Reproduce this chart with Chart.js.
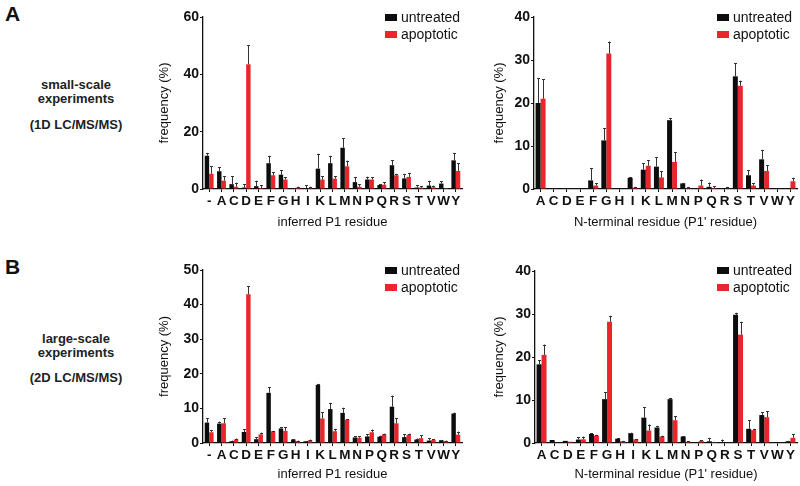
<!DOCTYPE html>
<html>
<head>
<meta charset="utf-8">
<script src="https://cdn.jsdelivr.net/npm/chart.js@4/dist/chart.umd.min.js"></script>
<style>
  body { margin: 0; background: #fff; }
  #wrap { position: relative; width: 800px; height: 486px; overflow: hidden;
    font-family: "Liberation Sans", Arial, Helvetica, sans-serif; color: #111; }
  .box { position: absolute; }
  .panel-label { position: absolute; font-weight: bold; font-size: 21px; }
  .side-text { position: absolute; left: 0; width: 152px; text-align: center;
    font-weight: bold; font-size: 13px; line-height: 14px; color: #222; }
  .legend { position: absolute; font-size: 14px; line-height: 17px; }
  .legend div { height: 17px; white-space: nowrap; }
  .legend span.sw { display: inline-block; width: 12px; height: 7px; margin-right: 4px; vertical-align: 1px; }
</style>
</head>
<body>
<div id="wrap">
  <div class="panel-label" style="left:5px;top:2px">A</div>
  <div class="panel-label" style="left:5px;top:255px">B</div>

  <div class="side-text" style="top:78px">small-scale<br>experiments</div>
  <div class="side-text" style="top:118px">(1D LC/MS/MS)</div>
  <div class="side-text" style="top:332px">large-scale<br>experiments</div>
  <div class="side-text" style="top:371px">(2D LC/MS/MS)</div>

  <div class="box" style="left:150px;top:0px;width:320px;height:240px"><canvas id="chart_a_left"></canvas></div>
  <div class="box" style="left:470px;top:0px;width:330px;height:240px"><canvas id="chart_a_right"></canvas></div>
  <div class="box" style="left:150px;top:250px;width:320px;height:236px"><canvas id="chart_b_left"></canvas></div>
  <div class="box" style="left:470px;top:250px;width:330px;height:236px"><canvas id="chart_b_right"></canvas></div>

  <div class="legend" style="left:385px;top:9px"><div><span class="sw" style="background:#0d0d0d"></span>untreated</div><div><span class="sw" style="background:#e8262b"></span>apoptotic</div></div>
  <div class="legend" style="left:717px;top:9px"><div><span class="sw" style="background:#0d0d0d"></span>untreated</div><div><span class="sw" style="background:#e8262b"></span>apoptotic</div></div>
  <div class="legend" style="left:385px;top:262px"><div><span class="sw" style="background:#0d0d0d"></span>untreated</div><div><span class="sw" style="background:#e8262b"></span>apoptotic</div></div>
  <div class="legend" style="left:717px;top:262px"><div><span class="sw" style="background:#0d0d0d"></span>untreated</div><div><span class="sw" style="background:#e8262b"></span>apoptotic</div></div>
</div>

<script>
// categories
const p1_residues = ['-', 'A', 'C', 'D', 'E', 'F', 'G', 'H', 'I', 'K', 'L', 'M', 'N', 'P', 'Q', 'R', 'S', 'T', 'V', 'W', 'Y']
const p1p_residues = ['A', 'C', 'D', 'E', 'F', 'G', 'H', 'I', 'K', 'L', 'M', 'N', 'P', 'Q', 'R', 'S', 'T', 'V', 'W', 'Y']

// A: small-scale, inferred P1
const small_p1_untreated = [11.6, 6.2, 1.7, 0.5, 1.0, 9.0, 5.0, 0, 0.35, 7.1, 9.0, 14.4, 2.4, 3.3, 1.4, 8.3, 3.7, 0.5, 1.2, 1.9, 10.0]
const small_p1_untreated_err = [1.0, 1.4, 2.7, 1.2, 1.9, 2.6, 1.5, 0, 0.9, 5.2, 2.6, 3.4, 1.8, 1.0, 0.3, 1.7, 1.6, 0.8, 1.7, 0.8, 2.6]
const small_p1_apoptotic = [5.3, 2.9, 0.8, 43.5, 0.35, 4.8, 3.3, 0.5, 0.3, 3.3, 3.6, 7.9, 0.8, 3.3, 1.5, 4.8, 4.2, 0.5, 0.6, 0.2, 6.3]
const small_p1_apoptotic_err = [2.6, 1.5, 1.4, 6.6, 1.0, 1.1, 0.8, 0.3, 0.5, 1.1, 0.9, 2.0, 0.9, 0.9, 0.9, 0.5, 1.4, 0.4, 0.6, 0.1, 2.7]

// A: small-scale, N-terminal P1'
const small_p1p_untreated = [20.0, 0, 0, 0, 2.0, 11.3, 0, 2.6, 4.5, 5.2, 16.0, 1.3, 0, 0.5, 0, 26.2, 3.2, 6.9, 0, 0]
const small_p1p_untreated_err = [5.7, 0, 0, 0, 2.9, 2.8, 0, 0.2, 1.5, 2.2, 0.4, 0.1, 0, 1.0, 0, 3.0, 1.2, 2.2, 0, 0]
const small_p1p_apoptotic = [21.0, 0, 0, 0, 0.8, 31.5, 0, 0.3, 5.4, 2.7, 6.3, 0.2, 0.8, 0.2, 0.1, 24.0, 0.8, 4.2, 0, 1.8]
const small_p1p_apoptotic_err = [4.5, 0, 0, 0, 0.6, 2.8, 0, 0.2, 1.3, 1.4, 2.3, 0.3, 1.4, 0.5, 0.4, 1.2, 0.6, 1.3, 0, 0.8]

// B: large-scale, inferred P1
const large_p1_untreated = [5.9, 5.6, 0.5, 3.2, 1.1, 14.5, 4.2, 1.0, 0.5, 16.8, 9.8, 8.7, 1.6, 1.9, 1.8, 10.5, 1.7, 1.0, 0.7, 0.8, 8.5]
const large_p1_untreated_err = [1.2, 0.6, 0.2, 0.8, 0.5, 1.7, 0.3, 0.1, 0.1, 0.3, 1.8, 1.5, 0.4, 0.6, 0.3, 3.2, 0.9, 0.3, 0.7, 0.1, 0.3]
const large_p1_apoptotic = [3.1, 5.7, 1.0, 43.0, 2.5, 3.4, 3.5, 0.6, 0.8, 7.1, 3.4, 6.7, 1.5, 3.1, 2.5, 5.7, 2.4, 1.4, 0.9, 0.6, 2.4]
const large_p1_apoptotic_err = [0.7, 1.4, 0.3, 2.4, 0.5, 0.1, 1.0, 0.1, 0.2, 1.8, 0.7, 0.2, 0.4, 0.8, 0.2, 1.5, 0.3, 0.8, 0.2, 0.1, 0.9]

// B: large-scale, N-terminal P1'
const large_p1p_untreated = [18.3, 0.7, 0.5, 0.8, 2.1, 10.2, 1.0, 2.3, 5.9, 3.6, 10.2, 1.5, 0, 0.4, 0.2, 29.8, 3.3, 6.5, 0, 0.4]
const large_p1p_untreated_err = [1.0, 0, 0, 0.6, 0.2, 1.6, 0.1, 0.1, 2.4, 0.4, 0.3, 0.1, 0, 0.8, 0.6, 0.5, 2.0, 0.6, 0, 0.1]
const large_p1p_apoptotic = [20.5, 0, 0.3, 0.85, 1.7, 28.2, 0.4, 0.85, 2.9, 1.5, 5.3, 0.3, 0.5, 0.2, 0, 25.2, 3.0, 6.0, 0, 1.2]
const large_p1p_apoptotic_err = [2.4, 0, 0, 0.65, 0.2, 1.4, 0.1, 0.1, 1.4, 0.2, 1.0, 0.1, 0.2, 0.1, 0, 3.0, 0.3, 1.4, 0, 0.8]

const BLACK = '#0d0d0d'
const RED = '#e8262b'
const FONT = '"Liberation Sans", Arial, Helvetica, sans-serif'

Chart.defaults.font.family = FONT
Chart.defaults.color = '#111'

// draws the upper error whiskers, using the chart's own y scale
const error_bar_plugin = {
  id: 'error_bars',
  afterDatasetsDraw(chart) {
    const ctx = chart.ctx
    const y_scale = chart.scales.y
    chart.data.datasets.forEach((ds, i) => {
      const meta = chart.getDatasetMeta(i)
      meta.data.forEach((bar, j) => {
        const err = ds.errors[j]
        if (!err) return
        const x = Math.round(bar.x) + 0.5
        const y_top = y_scale.getPixelForValue(ds.data[j] + err)
        ctx.save()
        ctx.strokeStyle = '#333'
        ctx.lineWidth = 1
        ctx.beginPath()
        ctx.moveTo(x, bar.y)
        ctx.lineTo(x, y_top)
        ctx.moveTo(x - 1.5, Math.round(y_top) + 0.5)
        ctx.lineTo(x + 1.5, Math.round(y_top) + 0.5)
        ctx.stroke()
        ctx.restore()
      })
    })
  }
}

function create_chart(elem_id, labels, untreated, untreated_err, apoptotic, apoptotic_err, cfg) {
  const ctx = document.getElementById(elem_id)
  return new Chart(ctx, {
    type: 'bar',
    data: {
      labels: labels,
      datasets: [
        { label: 'untreated', data: untreated, errors: untreated_err, backgroundColor: BLACK },
        { label: 'apoptotic', data: apoptotic, errors: apoptotic_err, backgroundColor: RED }
      ]
    },
    options: {
      responsive: true,
      maintainAspectRatio: false,
      animation: false,
      datasets: { bar: { barPercentage: 1.0, categoryPercentage: cfg.cat_pct } },
      layout: { padding: { top: cfg.pad_top, right: cfg.pad_right, left: 0, bottom: 0 } },
      plugins: { legend: { display: false }, tooltip: { enabled: false } },
      scales: {
        x: {
          grid: { display: true, drawOnChartArea: false, drawTicks: true, tickLength: 3, offset: false, color: '#111' },
          border: { display: true, color: '#111', width: 1.3 },
          ticks: { autoSkip: false, maxRotation: 0, padding: 1, font: { size: 13.5, weight: 'bold' }, color: '#111' },
          title: { display: true, text: cfg.x_title, font: { size: 13 }, color: '#111', padding: { top: 0, bottom: cfg.x_title_pad } },
          afterFit: (scale) => { scale.height = cfg.x_height }
        },
        y: {
          min: 0,
          max: cfg.y_max,
          ticks: { stepSize: cfg.y_step, padding: 1, font: { size: 14, weight: 'bold' }, color: '#111' },
          grid: { display: true, drawOnChartArea: false, drawTicks: true, tickLength: 3, color: '#111' },
          border: { display: true, color: '#111', width: 1.3 },
          title: { display: true, text: 'frequency (%)', font: { size: 13 }, color: '#111', padding: { top: cfg.y_title_pad, bottom: 0 } },
          afterFit: (scale) => { scale.width = cfg.y_width }
        }
      }
    },
    plugins: [error_bar_plugin]
  })
}

create_chart('chart_a_left', p1_residues, small_p1_untreated, small_p1_untreated_err, small_p1_apoptotic, small_p1_apoptotic_err, {
  cat_pct: 0.72, pad_top: 17, pad_right: 8, x_title: 'inferred P1 residue', x_title_pad: 10, x_height: 51,
  y_max: 60, y_step: 20, y_title_pad: 7, y_width: 53
})
create_chart('chart_a_right', p1p_residues, small_p1p_untreated, small_p1p_untreated_err, small_p1p_apoptotic, small_p1p_apoptotic_err, {
  cat_pct: 0.76, pad_top: 17, pad_right: 3, x_title: "N-terminal residue (P1' residue)", x_title_pad: 10, x_height: 51,
  y_max: 40, y_step: 10, y_title_pad: 22, y_width: 64
})
create_chart('chart_b_left', p1_residues, large_p1_untreated, large_p1_untreated_err, large_p1_apoptotic, large_p1_apoptotic_err, {
  cat_pct: 0.72, pad_top: 20, pad_right: 8, x_title: 'inferred P1 residue', x_title_pad: 4, x_height: 43,
  y_max: 50, y_step: 10, y_title_pad: 7, y_width: 53
})
create_chart('chart_b_right', p1p_residues, large_p1p_untreated, large_p1p_untreated_err, large_p1p_apoptotic, large_p1p_apoptotic_err, {
  cat_pct: 0.76, pad_top: 21, pad_right: 3, x_title: "N-terminal residue (P1' residue)", x_title_pad: 4, x_height: 43,
  y_max: 40, y_step: 10, y_title_pad: 22, y_width: 65
})
</script>
</body>
</html>
